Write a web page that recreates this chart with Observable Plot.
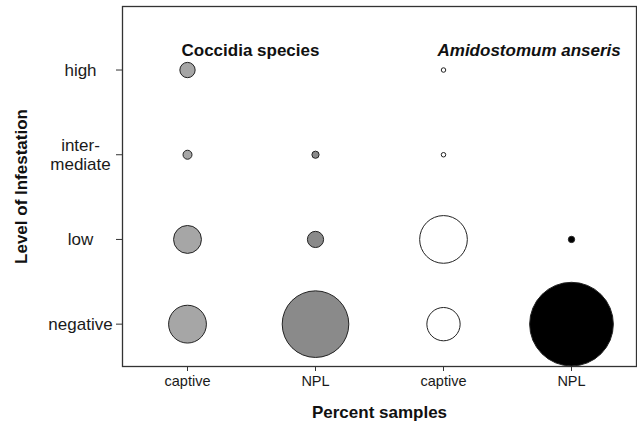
<!DOCTYPE html>
<html>
<head>
<meta charset="utf-8">
<script src="https://cdn.jsdelivr.net/npm/d3@7"></script>
<script src="https://cdn.jsdelivr.net/npm/@observablehq/plot@0.6"></script>
<style>
  html, body { margin: 0; padding: 0; background: #fff; }
  #chart svg { display: block; }
</style>
</head>
<body>
<div id="chart"></div>
<script>
// ---- data ----
const levels = ["negative", "low", "intermediate", "high"];
const levelLabels = ["negative", "low", "inter-\nmediate", "high"];
const parasites = ["Coccidia species", "Coccidia species", "Amidostomum anseris", "Amidostomum anseris"];
const sites = ["captive", "NPL", "captive", "NPL"];
const panelTitles = ["Coccidia species", "Amidostomum anseris"];
// percent of samples per level (negative, low, intermediate, high)
const coccidiaCaptive = [42, 31, 10, 17];
const coccidiaNPL = [74, 18, 8, 0];
const amidoCaptive = [37, 53, 5, 5];
const amidoNPL = [93, 7, 0, 0];
const xLabel = "Percent samples";
const yLabel = "Level of Infestation";

// ---- build table ----
const series = [coccidiaCaptive, coccidiaNPL, amidoCaptive, amidoNPL];
const keys = sites.map((s, i) => parasites[i] + "|" + s);
const rows = [];
series.forEach((vals, i) => {
  vals.forEach((v, j) => {
    rows.push({key: keys[i], site: sites[i], level: j + 1, percent: v});
  });
});
const titleRows = panelTitles.map(t => ({title: t, key: keys[parasites.indexOf(t)]}));

const fills = ["#a6a6a6", "#8a8a8a", "#ffffff", "#000000"];
const titleStyle = {
  x: "key", text: "title", frameAnchor: "top", dy: 37, dx: -6,
  textAnchor: "start", fontSize: 17, fontWeight: "bold", fill: "#111"
};

const chart = Plot.plot({
  width: 637,
  height: 424,
  marginLeft: 122,
  marginRight: 1,
  marginTop: 6,
  marginBottom: 58,
  style: {fontFamily: "'Liberation Sans', Arial, sans-serif", color: "#1a1a1a", background: "#fff"},
  x: {type: "point", domain: keys, padding: 0.5},
  y: {type: "linear", domain: [0.5, 4.75]},
  r: {type: "linear", domain: [0, 100], range: [0, 45]},
  color: {type: "ordinal", domain: keys, range: fills},
  marks: [
    Plot.frame({stroke: "#333", strokeWidth: 1.3}),
    Plot.axisX({
      tickSize: 5, tickPadding: 4, fontSize: 14.5, label: null,
      tickFormat: k => k.split("|")[1], stroke: "#333"
    }),
    Plot.axisY({
      ticks: [1, 2, 3, 4], tickSize: 6, tickPadding: 36, fontSize: 17,
      textAnchor: "middle", lineHeight: 1.08, label: null,
      tickFormat: d => levelLabels[d - 1], stroke: "#333"
    }),
    Plot.dot(rows.filter(d => d.percent > 0), {
      x: "key", y: "level", r: "percent", fill: "key",
      stroke: "#222", strokeWidth: 1
    }),
    Plot.text(titleRows.slice(0, 1), {...titleStyle}),
    Plot.text(titleRows.slice(1), {...titleStyle, fontStyle: "italic"}),
    Plot.text([xLabel], {
      text: d => d, frameAnchor: "bottom", dy: 51, fontSize: 17,
      fontWeight: "bold", fill: "#111"
    }),
    Plot.text([yLabel], {
      text: d => d, frameAnchor: "left", textAnchor: "middle", dx: -101, rotate: -90, fontSize: 17,
      fontWeight: "bold", fill: "#111"
    })
  ]
});
document.getElementById("chart").appendChild(chart);
</script>
</body>
</html>
